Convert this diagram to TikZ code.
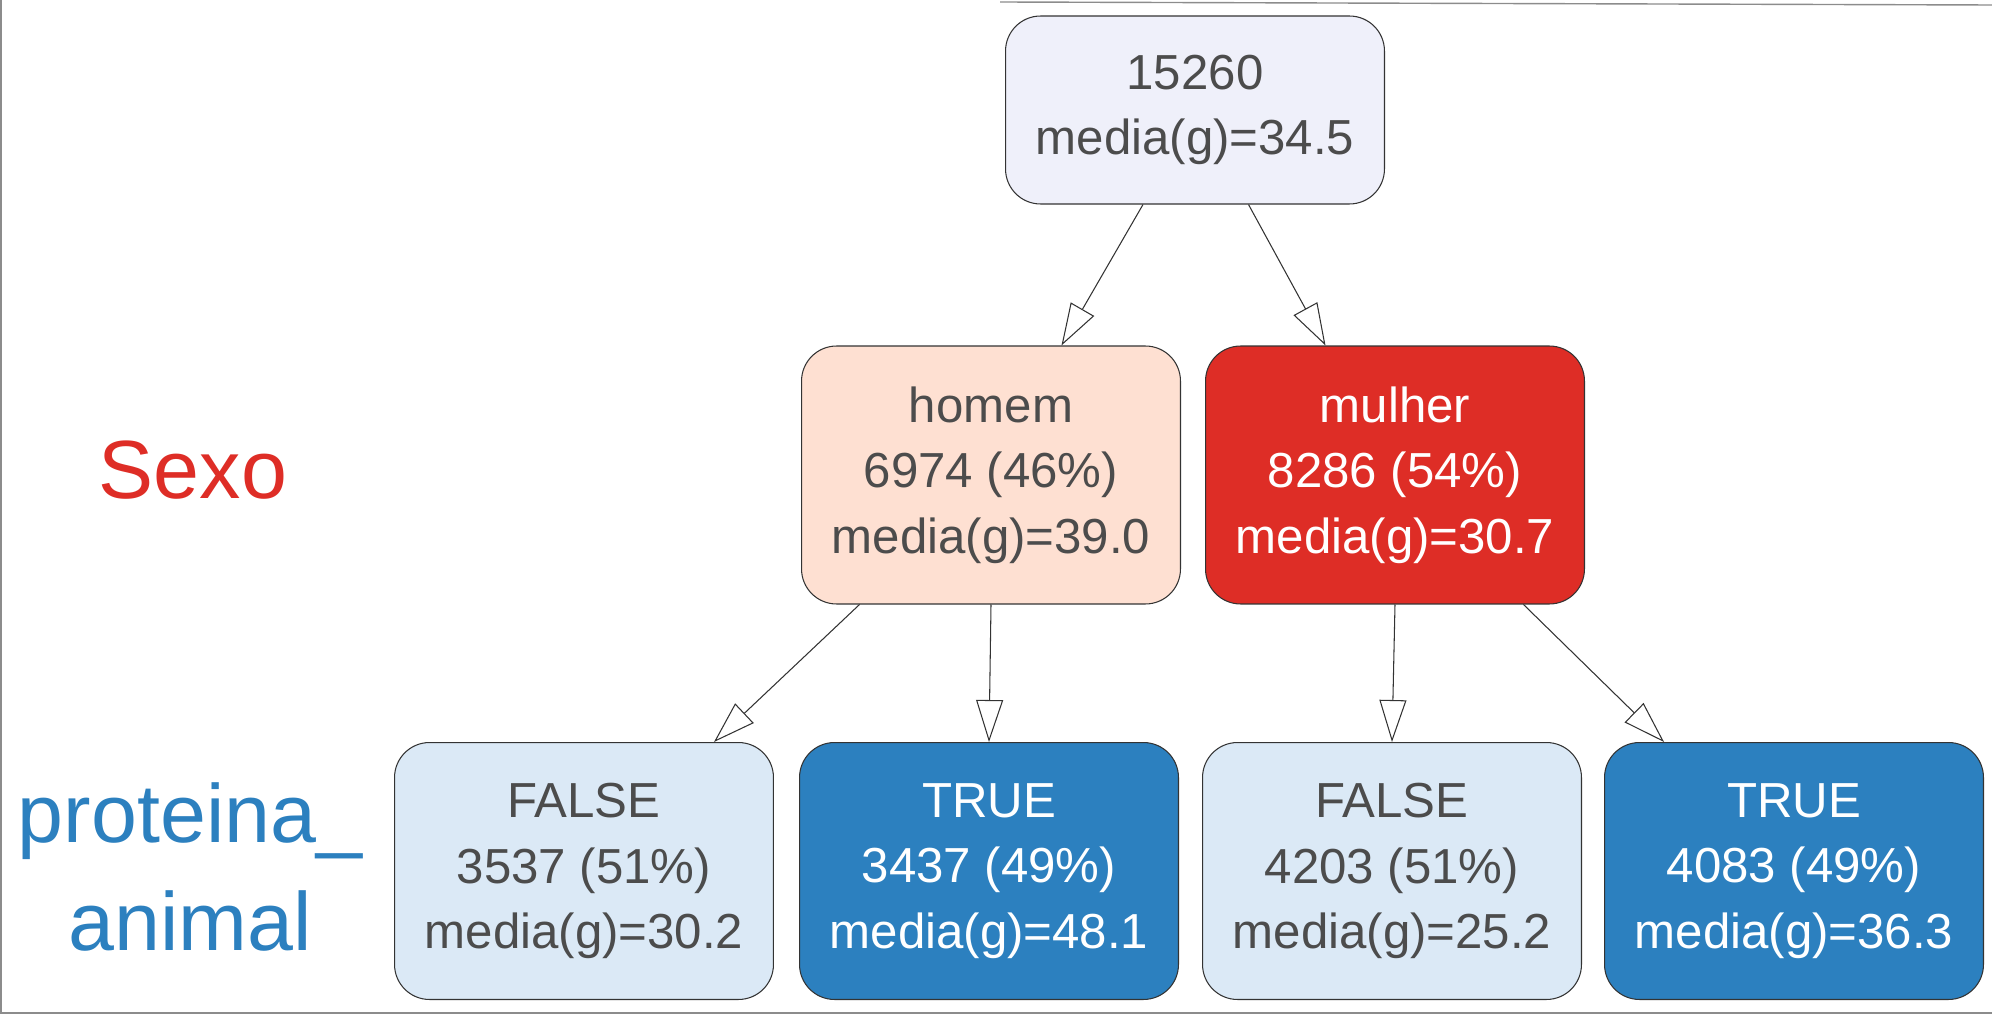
\documentclass[tikz,border=0pt]{standalone}
\usepackage{fontspec}
\setmainfont{Liberation Sans}
\usetikzlibrary{arrows.meta}

\definecolor{rootfill}{HTML}{EFF0FA}
\definecolor{homemfill}{HTML}{FEE0D2}
\definecolor{mulherfill}{HTML}{DE2D26}
\definecolor{falsefill}{HTML}{DBE9F6}
\definecolor{truefill}{HTML}{2C80BF}

\tikzset{
  box/.style={draw=black!80, line width=0.6pt, rounded corners=0.7cm,
    minimum width=7.58cm, align=center, inner sep=0pt,
    font=\fontsize{28}{37.4}\selectfont},
  darktext/.style={text=black!70},
  lighttext/.style={text=white},
  edge/.style={line width=0.6pt, black!80,
    -{Triangle[length=0.84cm, width=0.54cm, fill=white]}},
  varlabel/.style={align=center, font=\fontsize{47}{61}\selectfont}
}

\begin{document}
\begin{tikzpicture}[x=0.02cm, y=-0.02cm]
	\useasboundingbox (0,0) rectangle (1992,1020);

	% frame left by the screenshot
	\draw[black!45, line width=0.8pt] (1,0) -- (1,1013) -- (1992,1013);
	\draw[black!45, line width=0.8pt] (1000,2) -- (1992,5);

	% root
	\node[box, darktext, fill=rootfill, minimum height=3.76cm] (root) at (1195,110) {15260\\media(g)=34.5};

	% Sexo
	\node[box, darktext, fill=homemfill, minimum height=5.16cm] (homem) at (991,475) {homem\\6974 (46\%)\\media(g)=39.0};
	\node[box, lighttext, fill=mulherfill, minimum height=5.16cm] (mulher) at (1395,475) {mulher\\8286 (54\%)\\media(g)=30.7};

	% proteina_animal
	\node[box, darktext, fill=falsefill, minimum height=5.14cm] (hfalse) at (584,871) {FALSE\\3537 (51\%)\\media(g)=30.2};
	\node[box, lighttext, fill=truefill, minimum height=5.14cm] (htrue) at (989,871) {TRUE\\3437 (49\%)\\media(g)=48.1};
	\node[box, darktext, fill=falsefill, minimum height=5.14cm] (mfalse) at (1392,871) {FALSE\\4203 (51\%)\\media(g)=25.2};
	\node[box, lighttext, fill=truefill, minimum height=5.14cm] (mtrue) at (1794,871) {TRUE\\4083 (49\%)\\media(g)=36.3};

	\foreach \source/\dest/\sx/\dx in {root/homem/-1.04/1.41, root/mulher/1.07/-1.39, homem/hfalse/-2.63/2.6, homem/htrue/0/0, mulher/mfalse/0/0, mulher/mtrue/2.57/-2.6}
	\draw[edge] ([xshift=\sx cm]\source.south) -- ([xshift=\dx cm]\dest.north);

	% level labels
	\node[varlabel, text=mulherfill] (sexo) at (193,470) {Sexo};
	\node[varlabel, text=truefill] (proteina) at (190,867) {proteina\_\\animal};

\end{tikzpicture}
\end{document}
